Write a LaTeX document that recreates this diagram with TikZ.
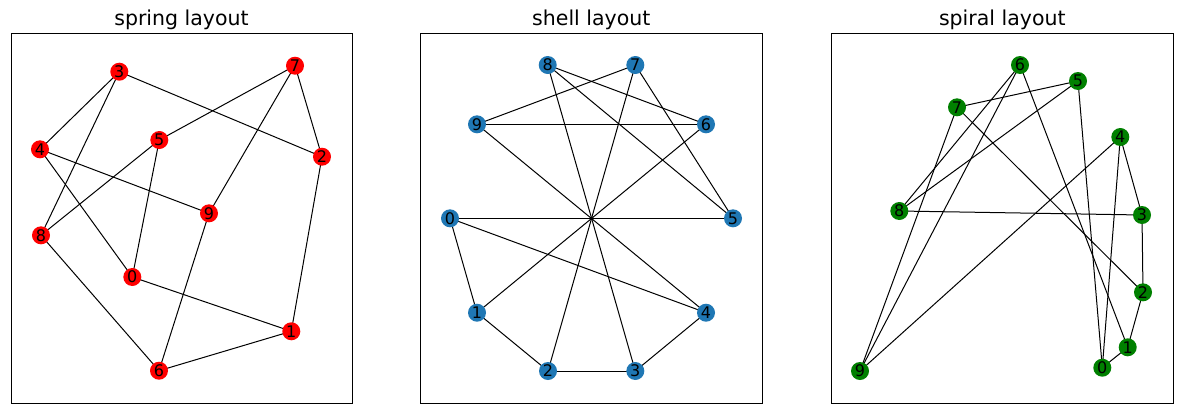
\documentclass[tikz,border=0pt]{standalone}
\usepackage{fontspec}
\setmainfont{DejaVu Sans}
\usetikzlibrary{backgrounds}
\definecolor{mplblue}{HTML}{1F77B4}
\definecolor{mplgreen}{RGB}{0,128,0}
\tikzset{
  graph_n/.style = {circle, inner sep=0pt, minimum size=18pt,
    font=\fontsize{16}{16}\selectfont},
  spring_n/.style = {graph_n, fill=red},% spring layout
  shell_n/.style = {graph_n, fill=mplblue},% shell layout
  spiral_n/.style = {graph_n, fill=mplgreen},% spiral layout
  axes_box/.style = {draw=black, line width=1pt},
  layout_title/.style = {anchor=base, font=\fontsize{20.5}{20.5}\selectfont},
  edge_l/.style = {draw=black, line width=1pt},
}

\begin{document}
\begin{tikzpicture}[x=1pt,y=-1pt]
\useasboundingbox (0,0) rectangle (1182,413);

% spring layout
\node [layout_title] (t1) at (181.5,25.5) {spring layout};
\node [spring_n] (a0) at (132.3,277) {0};
\node [spring_n] (a1) at (291.3,331.3) {1};
\node [spring_n] (a2) at (322,156.7) {2};
\node [spring_n] (a3) at (119.3,71.7) {3};
\node [spring_n] (a4) at (40,149.3) {4};
\node [spring_n] (a5) at (159.3,140) {5};
\node [spring_n] (a6) at (159,370.7) {6};
\node [spring_n] (a7) at (295,65.7) {7};
\node [spring_n] (a8) at (41,235.3) {8};
\node [spring_n] (a9) at (209,213.3) {9};
\draw [axes_box] (11,33.3) rectangle (352.3,403.3);

% shell layout
\node [layout_title] (t2) at (591.3,25.5) {shell layout};
\node [shell_n] (b0) at (450,218.3) {0};
\node [shell_n] (b1) at (477,312.7) {1};
\node [shell_n] (b2) at (548,371) {2};
\node [shell_n] (b3) at (635.3,371) {3};
\node [shell_n] (b4) at (706,312.7) {4};
\node [shell_n] (b5) at (733,218.3) {5};
\node [shell_n] (b6) at (706,124.3) {6};
\node [shell_n] (b7) at (635.3,65) {7};
\node [shell_n] (b8) at (547.7,65) {8};
\node [shell_n] (b9) at (477,124.3) {9};
\draw [axes_box] (420.3,33.3) rectangle (762.3,403.3);

% spiral layout
\node [layout_title] (t3) at (1002.3,25.5) {spiral layout};
\node [spiral_n] (c0) at (1102.3,367.7) {0};
\node [spiral_n] (c1) at (1127.7,347.3) {1};
\node [spiral_n] (c2) at (1143,292.3) {2};
\node [spiral_n] (c3) at (1142,215) {3};
\node [spiral_n] (c4) at (1120.3,137) {4};
\node [spiral_n] (c5) at (1078,81) {5};
\node [spiral_n] (c6) at (1020,65) {6};
\node [spiral_n] (c7) at (957,107.3) {7};
\node [spiral_n] (c8) at (899.3,211) {8};
\node [spiral_n] (c9) at (860,371) {9};
\draw [axes_box] (831.3,33.3) rectangle (1173.3,403.3);

% same edges in every panel, drawn under the nodes
\begin{scope}[on background layer]
\foreach \p in {a,b,c}{
  \foreach \u/\v in {0/1,0/4,0/5,1/2,1/6,2/3,2/7,3/4,3/8,4/9,5/7,5/8,6/8,6/9,7/9}{
    \draw [edge_l] (\p\u.center) -- (\p\v.center);
  }
}
\end{scope}
\end{tikzpicture}
\end{document}
